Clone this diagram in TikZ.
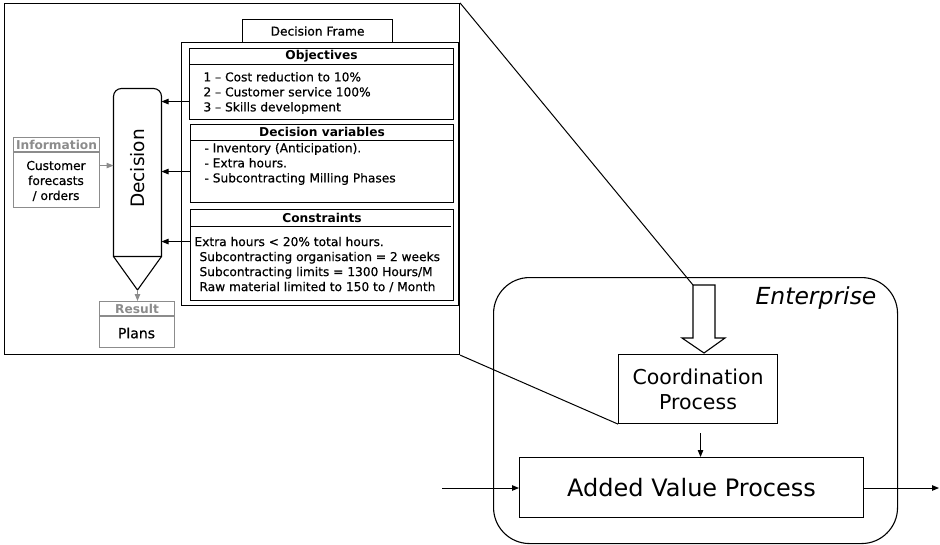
\documentclass[tikz,border=0pt]{standalone}
\usepackage{fontspec}
\setmainfont{DejaVu Sans}
\newfontfamily\smallfont[FakeBold=0.6]{DejaVu Sans}
\usetikzlibrary{arrows.meta}
\usetikzlibrary{calc}
\definecolor{infogray}{gray}{0.55}
\tikzset{
  box/.style= {draw, line width=1.1pt, anchor=north west, inner sep=0},
  head/.style= {inner sep=0, font=\fontsize{12.2}{14}\selectfont\bfseries},
  body/.style= {anchor=west, align=left, inner sep=0, font=\smallfont\fontsize{12.2}{15}\selectfont},
  arr/.style= {-{Triangle[length=7pt,width=5.5pt]}},
  grey/.style= {draw=infogray},
}
\begin{document}
\begin{tikzpicture}[x=1pt, y=-1pt, line width=1pt]
  \useasboundingbox (0,0) rectangle (940,544) ;

  % zoomed view of the decision centre
  \node [box, minimum width=455pt, minimum height=351pt] (zoom) at (4,3) {} ;
  \node [box, minimum width=150pt, minimum height=23pt, font=\smallfont\fontsize{12.2}{14}\selectfont] (tab) at (242,19) {Decision Frame} ;
  \node [box, minimum width=277pt, minimum height=263pt] (frame) at (181,42) {} ;

  \node [box, minimum width=264pt, minimum height=71pt] (obj) at (189,48) {} ;
  \node [head] at ([yshift=-8pt]obj.north) {Objectives} ;
  \draw ([yshift=-16pt]obj.north west) -- ([yshift=-16pt]obj.north east) ;
  \node [body] at (203,93) {1 – Cost reduction to 10\%\\2 – Customer service 100\%\\3 – Skills development} ;

  \node [box, minimum width=263pt, minimum height=78pt] (var) at (190,124) {} ;
  \node [head] at ([yshift=-8pt]var.north) {Decision variables} ;
  \draw ([yshift=-16pt]var.north west) -- ([yshift=-16pt]var.north east) ;
  \node [body] at (204,164) {- Inventory (Anticipation).\\- Extra hours.\\- Subcontracting Milling Phases} ;

  \node [box, minimum width=263pt, minimum height=91pt] (con) at (190,209) {} ;
  \node [head] at ([yshift=-9pt]con.north) {Constraints} ;
  \draw ([yshift=-17pt]con.north west) -- ([yshift=-17pt,xshift=-3pt]con.north east) ;
  \node [body] at (194,264.5) {Extra hours < 20\% total hours.\\
    \hspace*{5pt}Subcontracting organisation = 2 weeks\\
    \hspace*{5pt}Subcontracting limits = 1300 Hours/M\\
    \hspace*{5pt}Raw material limited to 150 to / Month} ;

  % decision column
  \node [minimum width=47pt, minimum height=167pt, inner sep=0] (dec) at (137.5,172.5) {} ;
  \draw [line width=1.1pt] (dec.south west) [rounded corners=8pt] -- (dec.north west) -- (dec.north east) [sharp corners] -- (dec.south east) -- cycle ;
  \node [rotate=90, font=\fontsize{18.5}{20}\selectfont] at ([yshift=4pt]dec.center) {Decision} ;
  \coordinate (tip) at (137.5,290) ;
  \draw [line width=1.1pt] (dec.south west) -- (tip) -- (dec.south east) ;

  \node [box, grey, minimum width=86pt, minimum height=70pt] (info) at (13,137) {} ;
  \node [head, text=infogray] at ([yshift=-7.5pt]info.north) {Information} ;
  \draw [grey, line width=1.1pt] ([yshift=-15pt]info.north west) -- ([yshift=-15pt]info.north east) ;
  \node [align=center, inner sep=0, font=\smallfont\fontsize{12.2}{15}\selectfont] at (56,181) {Customer\\forecasts\\/ orders} ;

  \node [box, grey, minimum width=75pt, minimum height=46pt] (res) at (99,301) {} ;
  \node [head, text=infogray] at ([yshift=-7.5pt]res.north) {Result} ;
  \draw [grey, line width=1.1pt] ([yshift=-15pt]res.north west) -- ([yshift=-15pt]res.north east) ;
  \node [font=\smallfont\fontsize{14}{16}\selectfont] at (136.5,333) {Plans} ;

  \draw [arr, infogray] ([yshift=7pt]info.east) -- ([yshift=7pt]info.east -| dec.west) ;
  \draw [arr, infogray] (tip) -- (tip |- res.north) ;
  \draw [arr] ([yshift=-17.5pt]obj.west) -- ([yshift=-17.5pt]obj.west -| dec.east) ;
  \draw [arr] ([yshift=-8pt]var.west) -- ([yshift=-8pt]var.west -| dec.east) ;
  \draw [arr] ([yshift=13.5pt]con.west) -- ([yshift=13.5pt]con.west -| dec.east) ;

  % enterprise
  \node [draw, line width=1.1pt, rounded corners=36pt, anchor=north west, minimum width=404pt, minimum height=266pt] (ent) at (493,277) {} ;
  \node [font=\itshape\fontsize{23.5}{26}\selectfont] at (816,298) {Enterprise} ;
  \node [box, minimum width=159pt, minimum height=69pt, align=center, font=\fontsize{20.5}{25}\selectfont] (coord) at (618,354) {Coordination\\Process} ;
  \node [box, minimum width=344pt, minimum height=60pt, font=\fontsize{24}{28}\selectfont] (avp) at (519,457) {Added Value Process} ;
  \coordinate (hat) at (693,285) ;
  \draw [line width=1.1pt] (hat) -- (715,285) -- (715,338) -- (725,338) -- (704,353) -- (682,338) -- (693,338) -- cycle ;
  \coordinate (in) at (442,488) ;
  \coordinate (out) at (939,488) ;

  \draw (zoom.north east) -- (hat) ;
  \draw (zoom.south east) -- (coord.south west) ;
  \draw [arr] ([xshift=2.5pt,yshift=-9pt]coord.south) -- ([xshift=2.5pt]coord.south |- avp.north) ;
  \draw [arr] (in) -- (in -| avp.west) ;
  \draw [arr] (out -| avp.east) -- (out) ;
\end{tikzpicture}
\end{document}
